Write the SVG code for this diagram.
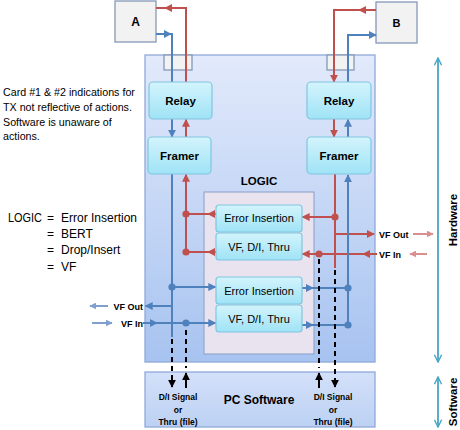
<svg xmlns="http://www.w3.org/2000/svg" width="460" height="430" viewBox="0 0 460 430">
<defs>
<linearGradient id="gCard" x1="0" y1="0" x2="0" y2="1"><stop offset="0" stop-color="#e2eafb"/><stop offset="1" stop-color="#a7c3f0"/></linearGradient>
<linearGradient id="gPc" x1="0" y1="0" x2="0" y2="1"><stop offset="0" stop-color="#d3e0f9"/><stop offset="1" stop-color="#bcd1f3"/></linearGradient>
<linearGradient id="gBox" x1="0" y1="0" x2="0" y2="1"><stop offset="0" stop-color="#d3f4fc"/><stop offset="1" stop-color="#9fe3f6"/></linearGradient>
<marker id="ar" viewBox="0 0 10 10" refX="9" refY="5" markerWidth="8" markerHeight="8" markerUnits="userSpaceOnUse" orient="auto"><path d="M0,0 L10,5 L0,10 z" fill="#c0504d"/></marker>
<marker id="ab" viewBox="0 0 10 10" refX="9" refY="5" markerWidth="8" markerHeight="8" markerUnits="userSpaceOnUse" orient="auto"><path d="M0,0 L10,5 L0,10 z" fill="#4f81bd"/></marker>
<marker id="ak" viewBox="0 0 10 10" refX="9" refY="5" markerWidth="8" markerHeight="8" markerUnits="userSpaceOnUse" orient="auto"><path d="M0,0 L10,5 L0,10 z" fill="#000"/></marker>
<marker id="alr" viewBox="0 0 10 10" refX="9" refY="5" markerWidth="7" markerHeight="7" markerUnits="userSpaceOnUse" orient="auto"><path d="M0,0 L10,5 L0,10 z" fill="#d98f8d"/></marker>
<marker id="alb" viewBox="0 0 10 10" refX="9" refY="5" markerWidth="7" markerHeight="7" markerUnits="userSpaceOnUse" orient="auto"><path d="M0,0 L10,5 L0,10 z" fill="#7fa0cf"/></marker>
<marker id="at" viewBox="0 0 10 10" refX="9" refY="5" markerWidth="9" markerHeight="9" markerUnits="userSpaceOnUse" orient="auto-start-reverse"><path d="M1,1 L9,5 L1,9" fill="none" stroke="#4aa6c6" stroke-width="1.6"/></marker>
</defs>
<style>
text{font-family:"Liberation Sans",Arial,sans-serif;fill:#000}
.b{font-weight:bold}
.c{text-anchor:middle}
.box{fill:url(#gBox);stroke:#80c6df;stroke-width:1.2}
.gray{fill:#f2f2f2;stroke:#8497b8;stroke-width:1.3}
.r{fill:none;stroke:#c0504d;stroke-width:2}
.bl{fill:none;stroke:#4f81bd;stroke-width:2}
.k{fill:none;stroke:#000;stroke-width:2}
.d{stroke-dasharray:5,4}
.lr{fill:none;stroke:#d98f8d;stroke-width:2}
.lb{fill:none;stroke:#7fa0cf;stroke-width:2}
.t{fill:none;stroke:#4aa6c6;stroke-width:1.8}
.dr{fill:#c0504d}
.db{fill:#4f81bd}
</style>

<g id="card"><rect x="145" y="55" width="230" height="307" fill="url(#gCard)" stroke="#8fa9d9" stroke-width="1.3"/></g>
<g id="pc-software"><rect x="145" y="372" width="230" height="55" fill="url(#gPc)" stroke="#8fa9d9" stroke-width="1.3"/>
<text class="b c" x="259" y="404" font-size="12">PC Software</text>
<text class="b c" x="178" y="400" font-size="8.5">D/I Signal</text>
<text class="b c" x="178" y="413" font-size="8.5">or</text>
<text class="b c" x="178" y="425" font-size="8.5">Thru (file)</text>
<text class="b c" x="333" y="400" font-size="8.5">D/I Signal</text>
<text class="b c" x="333" y="413" font-size="8.5">or</text>
<text class="b c" x="333" y="425" font-size="8.5">Thru (file)</text>
</g>
<g id="tab-a"><rect class="gray" x="164" y="55" width="28" height="15"/></g>
<g id="tab-b"><rect class="gray" x="327" y="55" width="27" height="15"/></g>
<g id="node-a"><rect class="gray" x="115" y="1" width="41" height="41"/><text class="b c" x="135.5" y="26" font-size="12">A</text></g>
<g id="node-b"><rect class="gray" x="376" y="2" width="41" height="41"/><text class="b c" x="396.5" y="27" font-size="11">B</text></g>
<g id="logic"><text class="b c" x="259" y="185" font-size="11.5">LOGIC</text>
<rect x="204" y="192" width="110" height="162" fill="#e8e3ee" stroke="#93a8cf" stroke-width="1.2"/></g>

<g id="connectors">
<path class="bl" d="M156,34 H172 V82"/>
<path class="bl" d="M156,34 H171" marker-end="url(#ab)"/>
<path class="bl" d="M172,119 V137" marker-end="url(#ab)"/>
<path class="r" d="M186,82 V8 H156"/>
<path class="r" d="M186,8 H165" marker-end="url(#ar)"/>
<path class="r" d="M186,137 V119.5" marker-end="url(#ar)"/>
<path class="r" d="M376,10 H334 V82" marker-end="url(#ar)"/>
<path class="r" d="M376,10 H359" marker-end="url(#ar)"/>
<path class="bl" d="M348,82 V35 H376" marker-end="url(#ab)"/>
<path class="r" d="M334,119 V137" marker-end="url(#ar)"/>
<path class="bl" d="M348,137 V119.5" marker-end="url(#ab)"/>
<path class="r" d="M186,252 V174.5" marker-end="url(#ar)"/>
<path class="r" d="M216,214 H186"/>
<path class="r" d="M216,214 H208" marker-end="url(#ar)"/>
<path class="r" d="M216,252 H186"/>
<path class="r" d="M216,252 H208" marker-end="url(#ar)"/>
<circle class="dr" cx="186" cy="214" r="3.6"/>
<circle class="dr" cx="186" cy="252" r="3.6"/>
<path class="r" d="M335,174 V268"/>
<path class="r" d="M335,217 H302.5" marker-end="url(#ar)"/>
<circle class="dr" cx="335" cy="217" r="3.6"/>
<path class="r" d="M335,234 H374" marker-end="url(#ar)"/>
<path class="r" d="M377,254 H363" marker-end="url(#ar)"/>
<path class="r" d="M363,254 H302.5" marker-end="url(#ar)"/>
<circle class="dr" cx="319" cy="254" r="3.6"/>
<path class="bl" d="M172,174 V337"/>
<path class="bl" d="M172,287 H215.5" marker-end="url(#ab)"/>
<circle class="db" cx="172" cy="287" r="3.6"/>
<path class="bl" d="M172,306 H145.5" marker-end="url(#ab)"/>
<path class="bl" d="M143,323 H157" marker-end="url(#ab)"/>
<path class="bl" d="M157,323 H215.5" marker-end="url(#ab)"/>
<circle class="db" cx="186" cy="323" r="3.6"/>
<path class="bl" d="M348,325 V175" marker-end="url(#ab)"/>
<path class="bl" d="M302,288 H348"/>
<path class="bl" d="M302,288 H313" marker-end="url(#ab)"/>
<path class="bl" d="M302,325 H348"/>
<path class="bl" d="M302,325 H313" marker-end="url(#ab)"/>
<circle class="db" cx="348" cy="288" r="3.6"/>
<circle class="db" cx="348" cy="325" r="3.6"/>
<path class="k d" d="M172,339 V380"/>
<path class="k" d="M172,380 V387" marker-end="url(#ak)"/>
<path class="k d" d="M186,330 V368"/>
<path class="k" d="M186,388 V373" marker-end="url(#ak)"/>
<path class="k d" d="M319,259 V368"/>
<path class="k" d="M319,388 V373" marker-end="url(#ak)"/>
<path class="k d" d="M335,270 V380"/>
<path class="k" d="M335,380 V387" marker-end="url(#ak)"/>
<path class="lr" d="M413,234 H433" marker-end="url(#alr)"/>
<path class="lr" d="M427,254 H410" marker-end="url(#alr)"/>
<path class="lb" d="M108,306 H90" marker-end="url(#alb)"/>
<path class="lb" d="M92,323 H112" marker-end="url(#alb)"/>
<path class="t" d="M438,58 V362" marker-start="url(#at)" marker-end="url(#at)"/>
<path class="t" d="M438,377 V427" marker-start="url(#at)" marker-end="url(#at)"/>
</g>

<g id="relay-a"><rect class="box" x="149" y="82" width="63" height="37" rx="4"/><text class="b c" x="180.5" y="105" font-size="11.5">Relay</text></g>
<g id="relay-b"><rect class="box" x="307" y="82" width="64" height="37" rx="4"/><text class="b c" x="339" y="105" font-size="11.5">Relay</text></g>
<g id="framer-a"><rect class="box" x="148" y="137" width="63" height="37" rx="4"/><text class="b c" x="179.5" y="160" font-size="11.5">Framer</text></g>
<g id="framer-b"><rect class="box" x="307" y="137" width="64" height="37" rx="4"/><text class="b c" x="339" y="160" font-size="11.5">Framer</text></g>
<g id="ei-1"><rect class="box" x="216" y="205" width="86" height="27" rx="3"/><text class="c" x="259" y="222" font-size="11">Error Insertion</text></g>
<g id="vf-1"><rect class="box" x="216" y="233" width="86" height="27" rx="3"/><text class="c" x="259" y="250.5" font-size="11">VF, D/I, Thru</text></g>
<g id="ei-2"><rect class="box" x="216" y="277" width="86" height="27" rx="3"/><text class="c" x="259" y="294.5" font-size="11">Error Insertion</text></g>
<g id="vf-2"><rect class="box" x="216" y="305" width="86" height="27" rx="3"/><text class="c" x="259" y="322.5" font-size="11">VF, D/I, Thru</text></g>

<g id="labels">
<text class="b" x="379" y="237.5" font-size="9">VF Out</text>
<text class="b" x="379" y="257.5" font-size="9">VF In</text>
<text class="b" x="143" y="309.5" font-size="9" text-anchor="end">VF Out</text>
<text class="b" x="143" y="326.5" font-size="9" text-anchor="end">VF In</text>
<text class="b c" transform="translate(457,220) rotate(-90)" font-size="11.5">Hardware</text>
<text class="b c" transform="translate(457,402) rotate(-90)" font-size="11.5">Software</text>
<text x="3" y="96" font-size="10.7">Card #1 &amp; #2 indications for</text>
<text x="3" y="111" font-size="10.7">TX not reflective of actions.</text>
<text x="3" y="126" font-size="10.7">Software is unaware of</text>
<text x="3" y="140" font-size="10.7">actions.</text>
<text x="8" y="222" font-size="12" textLength="34" lengthAdjust="spacingAndGlyphs">LOGIC</text>
<text x="47" y="222" font-size="12">=</text>
<text x="61" y="222" font-size="12">Error Insertion</text>
<text x="47" y="238" font-size="12">=</text>
<text x="61" y="238" font-size="12">BERT</text>
<text x="47" y="254" font-size="12">=</text>
<text x="61" y="254" font-size="12">Drop/Insert</text>
<text x="47" y="271" font-size="12">=</text>
<text x="61" y="271" font-size="12">VF</text>
</g>
</svg>
